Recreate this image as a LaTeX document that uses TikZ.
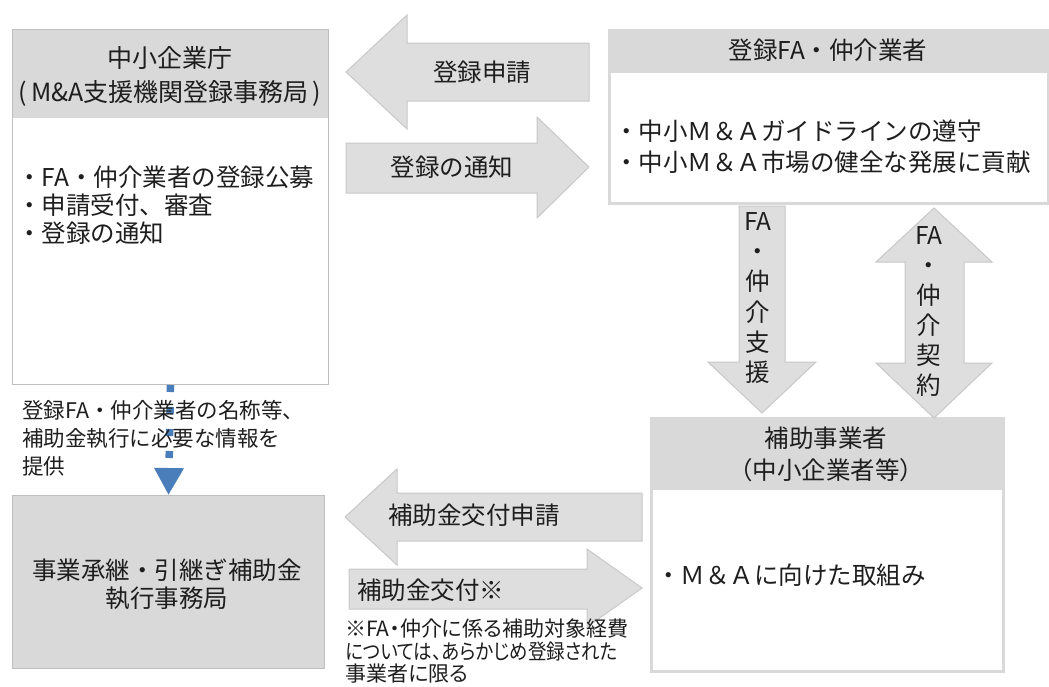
\documentclass[tikz,border=0pt]{standalone}
\usepackage{fontspec}
\setmainfont{Noto Sans CJK JP}
\newfontfamily\jpprop[RawFeature=+palt]{Noto Sans CJK JP}
\usetikzlibrary{arrows.meta}
\definecolor{hdr}{HTML}{D9D9D9}
\definecolor{bord}{HTML}{BFBFBF}
\definecolor{arrfill}{HTML}{DEDEDE}
\definecolor{arrdraw}{HTML}{C8C8C8}
\definecolor{txt}{HTML}{1E1E1E}
\definecolor{dblue}{HTML}{4A7EBB}
\tikzset{
  thinbox/.style={draw=bord, line width=1pt, inner sep=0pt, anchor=north west},
  thickbox/.style={draw=hdr, line width=3pt, fill=white, inner sep=0pt, anchor=north west},
  blockarrow/.style={fill=arrfill, draw=arrdraw, line width=1pt},
  big/.style={text=txt, font=\fontsize{24.5}{31}\selectfont, inner sep=0pt},
  small/.style={text=txt, font=\fontsize{21.5}{28}\selectfont, inner sep=0pt, align=left},
  infoline/.style={draw=dblue, line width=7.5pt, dash pattern=on 7pt off 15pt,
    -{Triangle[length=27pt,width=28pt,fill=dblue]}}
}
\begin{document}
\begin{tikzpicture}[x=1pt,y=-1pt]
\useasboundingbox (0,0) rectangle (1049,686);
\fill[white] (0,0) rectangle (1049,686);

% ---- boxes ----
\node[thinbox, fill=white, minimum width=316pt, minimum height=355pt,
  path picture={\fill[hdr] (path picture bounding box.north west) rectangle ([yshift=-88pt]path picture bounding box.north east);}]
  (A) at (12,29) {};
\node[thickbox, minimum width=439pt, minimum height=173pt,
  path picture={\fill[hdr] (path picture bounding box.north west) rectangle ([yshift=-42pt]path picture bounding box.north east);}]
  (B) at (608,29) {};
\node[thinbox, fill=hdr, minimum width=312pt, minimum height=173pt] (C) at (12,495) {};
\node[thickbox, minimum width=352pt, minimum height=253pt,
  path picture={\fill[hdr] (path picture bounding box.north west) rectangle ([yshift=-71pt]path picture bounding box.north east);}]
  (D) at (650,417) {};

% ---- box texts ----
\node[big, align=center, font=\fontsize{25}{33.5}\selectfont] (Ahead) at (170,76.5) {中小企業庁\\(\hspace{4pt}M\&A支援機関登録事務局\hspace{4pt})};
\node[big, align=left, anchor=west, font=\fontsize{24.5}{28.3}\selectfont] (Abody) at (17,205) {・FA・仲介業者の登録公募\\・申請受付、審査\\・登録の通知};
\node[big] (Bhead) at (828,50) {登録FA・仲介業者};
\node[big, align=left, anchor=west] (Bbody) at (614,147) {・中小Ｍ＆Ａガイドラインの遵守\\・中小Ｍ＆Ａ市場の健全な発展に貢献};
\node[big, align=center, font=\fontsize{24.5}{28}\selectfont] (Ctext) at (167,584) {事業承継・引継ぎ補助金\\執行事務局};
\node[big, align=center, font=\fontsize{24.5}{32}\selectfont] (Dhead) at (826,454) {補助事業者\\（中小企業者等）};
\node[big, anchor=west] (Dbody) at (656,575) {・Ｍ＆Ａに向けた取組み};

% ---- block arrows ----
\fill[blockarrow] (346,72) -- (407,15) -- (407,43) -- (589,43) -- (589,101) -- (407,101) -- (407,129) -- cycle;
\node[big] (t1) at (482,72) {登録申請};
\fill[blockarrow] (346,143) -- (537,143) -- (537,117) -- (589,167) -- (537,218) -- (537,193) -- (346,193) -- cycle;
\node[big] (t2) at (452,167) {登録の通知};

\fill[blockarrow] (739,206) -- (785,206) -- (785,362) -- (816,362) -- (762,413) -- (708,362) -- (739,362) -- cycle;
\node[big, align=center, font=\fontsize{24.5}{30.2}\selectfont] (t3) at (758,298) {FA\\・\\仲\\介\\支\\援};
\fill[blockarrow] (934,208) -- (992,262) -- (964,262) -- (964,363) -- (992,363) -- (934,418) -- (876,363) -- (905,363) -- (905,262) -- (876,262) -- cycle;
\node[big, align=center, font=\fontsize{24.5}{30}\selectfont] (t4) at (929,312) {FA\\・\\仲\\介\\契\\約};

\fill[blockarrow] (345,517) -- (397,469) -- (397,493) -- (642,493) -- (642,541) -- (397,541) -- (397,565) -- cycle;
\node[big] (t5) at (474,515) {補助金交付申請};
\fill[blockarrow] (349,569) -- (587,569) -- (587,549) -- (642,588) -- (587,627) -- (587,609) -- (349,609) -- cycle;
\node[big, anchor=west] (t6) at (357,590) {補助金交付※};

% ---- dashed information arrow ----
\draw[infoline] (A.south) -- (C.north);
\node[small, anchor=west] (n1) at (22,438) {登録FA・仲介業者の名称等、\\補助金執行に必要な情報を\\提供};
\node[small, anchor=west, font=\jpprop\fontsize{21}{22.5}\selectfont] (n2) at (345,651) {※FA・仲介に係る補助対象経費\\\scalebox{0.88}[1]{については、あらかじめ登録された}\\事業者に限る};
\end{tikzpicture}
\end{document}
